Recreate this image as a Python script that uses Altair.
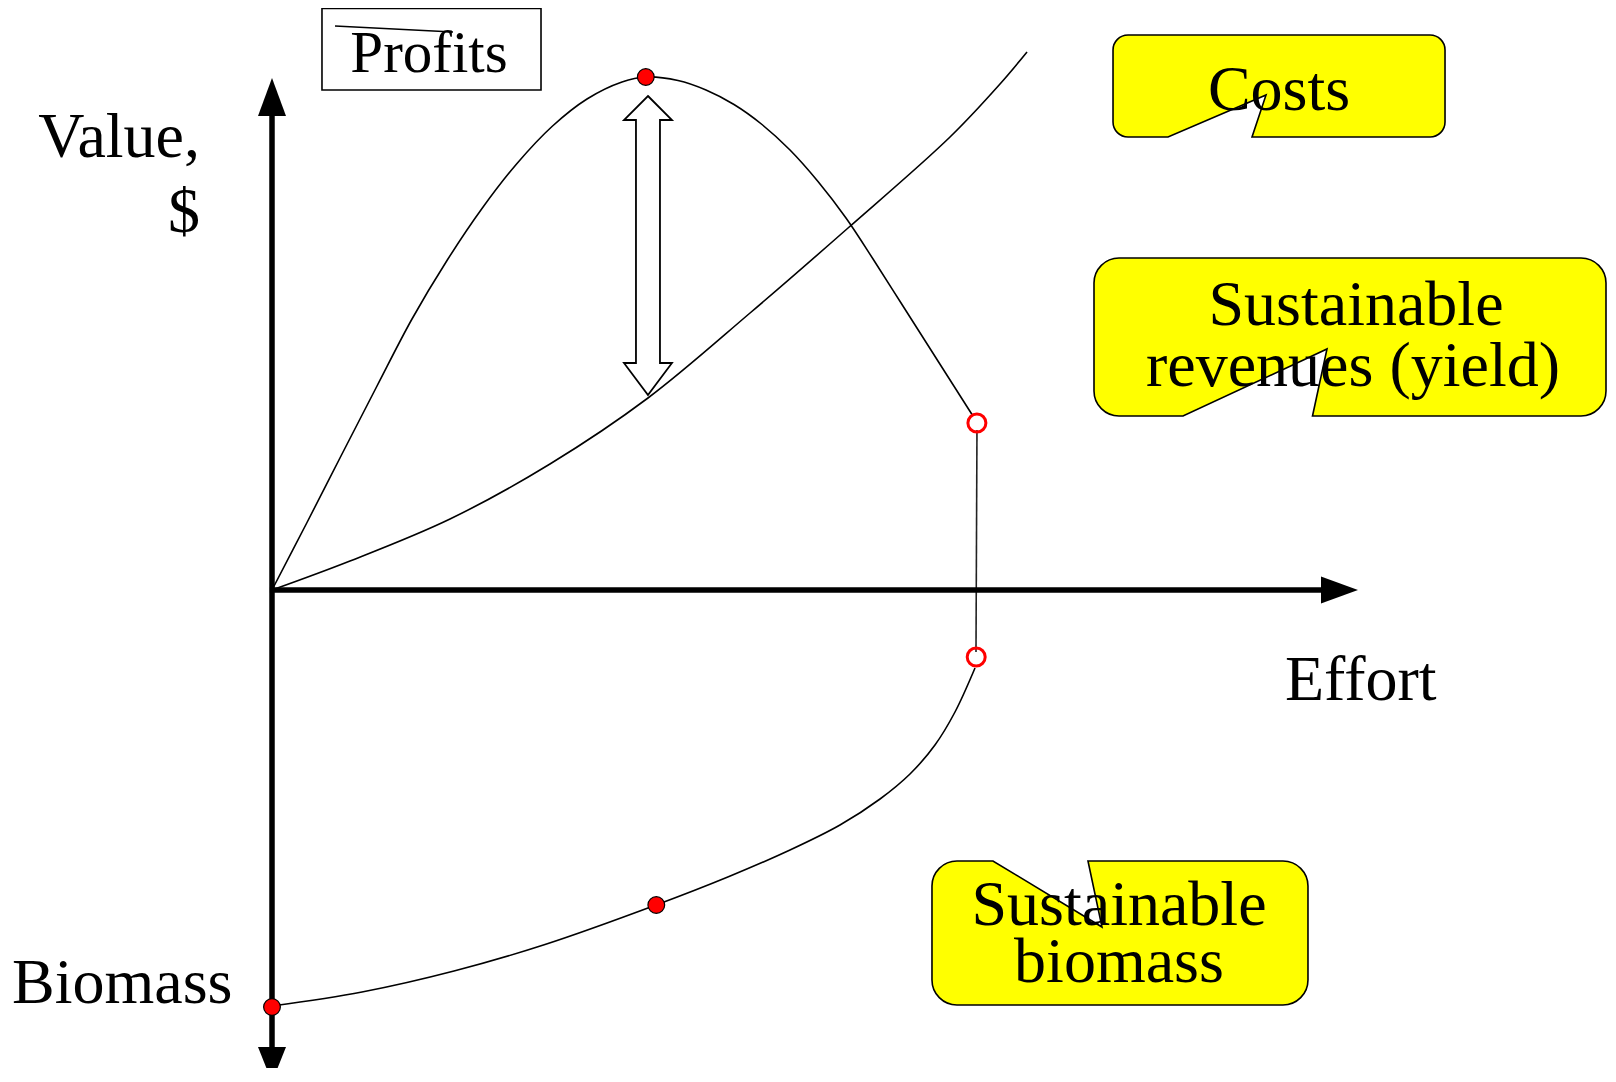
import altair as alt
import pandas as pd

FONT = "Liberation Serif"

# ---- curves (effort units, value units) ----
yield_effort = [0, 5, 10, 15, 20, 25, 30, 35, 40, 45, 50, 53.4, 58, 62, 66, 70, 74, 78, 82, 86, 90, 94, 98, 100.0]
yield_value = [0, 13.5, 27.2, 40.8, 54.2, 65.9, 76.3, 85.3, 92.7, 98.2, 101.6, 102.6, 101.9, 100.0, 97.1, 93.1, 88.0, 81.7, 74.4, 65.9, 57.1, 48.3, 39.5, 35.1]
cost_effort = [0, 11.14, 25.43, 39.71, 53.71, 68.29, 82.29, 96.86, 104.0, 107.86]
cost_value = [0, 5.8, 14.2, 25.2, 38.4, 55.4, 72.4, 90.6, 101.2, 107.6]
biomass_effort = [0, 12.86, 26.0, 39.0, 54.86, 65.29, 74.0, 81.14, 86.86, 91.14, 94.71, 97.57, 100.43]
biomass_value = [-83.2, -80.4, -76.2, -70.9, -63.0, -57.3, -52.0, -47.0, -41.8, -36.8, -31.0, -24.4, -15.6]

# highlighted points
dot_effort = [53.4, 54.9, 0]
dot_value = [102.6, -63.0, -83.4]
open_effort = [100.7, 100.6]
open_value = [33.4, -13.4]

# texts
axis_labels = ["Value,", "$", "Biomass", "Effort"]
profits_label = "Profits"
costs_label = "Costs"
revenue_lines = ["Sustainable", "revenues (yield)"]
biomass_lines = ["Sustainable", "biomass"]

X = alt.X("e:Q", scale=alt.Scale(domain=[-37.714286, 190.857143], nice=False, zero=False), axis=None)
Y = alt.Y("v:Q", scale=alt.Scale(domain=[-95.6, 116.4], nice=False, zero=False), axis=None)


def frame(**cols):
    return pd.DataFrame(cols)


curve_df = pd.concat([
    frame(e=yield_effort, v=yield_value, s="yield"),
    frame(e=cost_effort, v=cost_value, s="cost"),
    frame(e=biomass_effort, v=biomass_value, s="biomass"),
])

curves = alt.Chart(curve_df).mark_line(color="black", strokeWidth=1.6, interpolate="catmull-rom").encode(
    x=X, y=Y, detail="s:N")

connector = alt.Chart(frame(e=[100.71], v=[32.0], e2=[100.57], v2=[-12.4])).mark_rule(
    color="#222222", strokeWidth=1.6).encode(x=X, y=Y, x2="e2:Q", y2="v2:Q")

axes = alt.Chart(frame(e=[0, -0.3], v=[96, 0], e2=[0, 150], v2=[-93, 0])).mark_rule(
    color="black", strokeWidth=5.5).encode(x=X, y=Y, x2="e2:Q", y2="v2:Q")

head_up = alt.Chart(frame(e=[0], v=[102.4])).mark_point(
    shape="M0,0L14,38L-14,38Z", size=4, filled=True, fill="black", opacity=1, strokeWidth=0).encode(x=X, y=Y)
head_down = alt.Chart(frame(e=[0], v=[-98.4])).mark_point(
    shape="M0,0L14,-35L-14,-35Z", size=4, filled=True, fill="black", opacity=1, strokeWidth=0).encode(x=X, y=Y)
head_right = alt.Chart(frame(e=[155.14], v=[0])).mark_point(
    shape="M0,0L-37,-13.5L-37,13.5Z", size=4, filled=True, fill="black", opacity=1, strokeWidth=0).encode(x=X, y=Y)

double_arrow = alt.Chart(frame(e=[53.71], v=[68.9])).mark_point(
    shape="M0,-149.5L24,-125.5L12,-125.5L12,117.5L24,117.5L0,149.5L-24,117.5L-12,117.5L-12,-125.5L-24,-125.5Z",
    size=4, filled=True, fill="white", stroke="black", strokeWidth=1.8, opacity=1).encode(x=X, y=Y)

red_dots = alt.Chart(frame(e=dot_effort, v=dot_value)).mark_point(
    shape="circle", size=280, filled=True, fill="#FF0000", stroke="black", strokeWidth=1.2, opacity=1).encode(x=X, y=Y)
open_dots = alt.Chart(frame(e=open_effort, v=open_value)).mark_point(
    shape="circle", size=324, filled=False, stroke="#FF0000", strokeWidth=3, opacity=1).encode(x=X, y=Y)


def callout(hw, hh, r, a, tip, b, top=False):
    tx, ty = tip
    arc = f"A{r},{r} 0 0 1 "
    if top:
        return (f"M{-hw + r},{-hh}L{a},{-hh}L{tx},{ty}L{b},{-hh}L{hw - r},{-hh}{arc}{hw},{-hh + r}"
                f"L{hw},{hh - r}{arc}{hw - r},{hh}L{-hw + r},{hh}{arc}{-hw},{hh - r}"
                f"L{-hw},{-hh + r}{arc}{-hw + r},{-hh}Z")
    return (f"M{-hw + r},{-hh}L{hw - r},{-hh}{arc}{hw},{-hh + r}L{hw},{hh - r}{arc}{hw - r},{hh}"
            f"L{b},{hh}L{tx},{ty}L{a},{hh}L{-hw + r},{hh}{arc}{-hw},{hh - r}"
            f"L{-hw},{-hh + r}{arc}{-hw + r},{-hh}Z")


def callout_layer(e, v, path):
    return alt.Chart(frame(e=[e], v=[v])).mark_point(
        shape=path, size=4, filled=True, fill="#FFFF00", stroke="black", strokeWidth=1.6, opacity=1
    ).encode(x=X, y=Y)


costs_box = callout_layer(143.86, 100.8, callout(166, 51, 15, -111, (-13, 9), -27))
revenue_box = callout_layer(154.0, 50.6, callout(256, 79, 25, -167, (-23, 12), -37.5))
biomass_box = callout_layer(121.14, -68.6, callout(188, 72, 25, -127, (-18, -6), -32, top=True))

profits_box = alt.Chart(frame(e=[7.14], v=[116.3], e2=[38.43], v2=[100.0])).mark_rect(
    fill="white", stroke="black", strokeWidth=1.6).encode(x=X, y=Y, x2="e2:Q", y2="v2:Q")
profits_slash = alt.Chart(frame(e=[9.0], v=[112.8], e2=[25.86], v2=[111.6])).mark_rule(
    color="black", strokeWidth=1.4).encode(x=X, y=Y, x2="e2:Q", y2="v2:Q")


def text_layer(texts, es, vs, align, size=64):
    return alt.Chart(frame(t=texts, e=es, v=vs)).mark_text(
        font=FONT, fontSize=size, align=align, baseline="alphabetic", color="black"
    ).encode(x=X, y=Y, text="t:N")


t_value = text_layer(axis_labels[:2], [-10.29, -10.29], [86.6, 71.6], "right")
t_left = text_layer(axis_labels[2:], [-37.14, 144.71], [-82.6, -22.0], "left")
t_profits = text_layer([profits_label], [22.43], [103.6], "center", size=59)
t_costs = text_layer([costs_label], [143.86], [96.0], "center")
t_revenue = text_layer(revenue_lines, [154.86, 154.43], [53.0, 40.8], "center")
t_biomass = text_layer(biomass_lines, [121.0, 121.0], [-67.0, -78.4], "center")

chart = alt.layer(
    curves, connector, axes, head_up, head_down, head_right, double_arrow,
    red_dots, open_dots, costs_box, revenue_box, biomass_box, profits_box,
    t_value, t_left, t_profits, t_costs, t_revenue, t_biomass, profits_slash,
).properties(
    width=1600, height=1060, padding=0, autosize=alt.AutoSizeParams(type="none"), background="white"
).configure_view(stroke=None)

chart.save("out.html", embed_options={"renderer": "svg", "actions": False})
